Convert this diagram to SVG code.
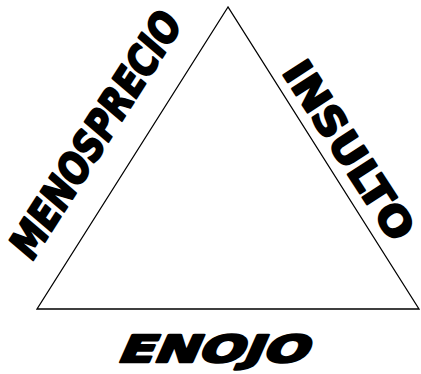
<svg xmlns="http://www.w3.org/2000/svg" width="421" height="374" viewBox="0 0 421 374">
<style>
.lbl{font-family:"DejaVu Sans","Liberation Sans",sans-serif;font-weight:bold;fill:#000;stroke:#000;stroke-width:2.2;stroke-linejoin:round;text-anchor:middle;}
.edge{fill:none;stroke:#000;stroke-width:1.3;stroke-linejoin:miter;}
</style>
<rect width="421" height="374" fill="#fff"/>
<g id="connectors">
<polygon class="edge" points="228,7 37,309 419,309"/>
</g>
<g id="node-menosprecio">
<text class="lbl" transform="translate(107,144) rotate(-57.5) skewX(-8)" x="0" y="0" font-size="42" textLength="282" lengthAdjust="spacingAndGlyphs">MENOSPRECIO</text>
</g>
<g id="node-insulto">
<text class="lbl" transform="translate(337,158) rotate(57)" x="0" y="0" font-size="40" textLength="205" lengthAdjust="spacingAndGlyphs">INSULTO</text>
</g>
<g id="node-enojo">
<text class="lbl" style="stroke-width:2.6" transform="translate(211,362) skewX(-24)" x="0" y="0" font-size="37" textLength="190" lengthAdjust="spacingAndGlyphs">ENOJO</text>
</g>
</svg>
